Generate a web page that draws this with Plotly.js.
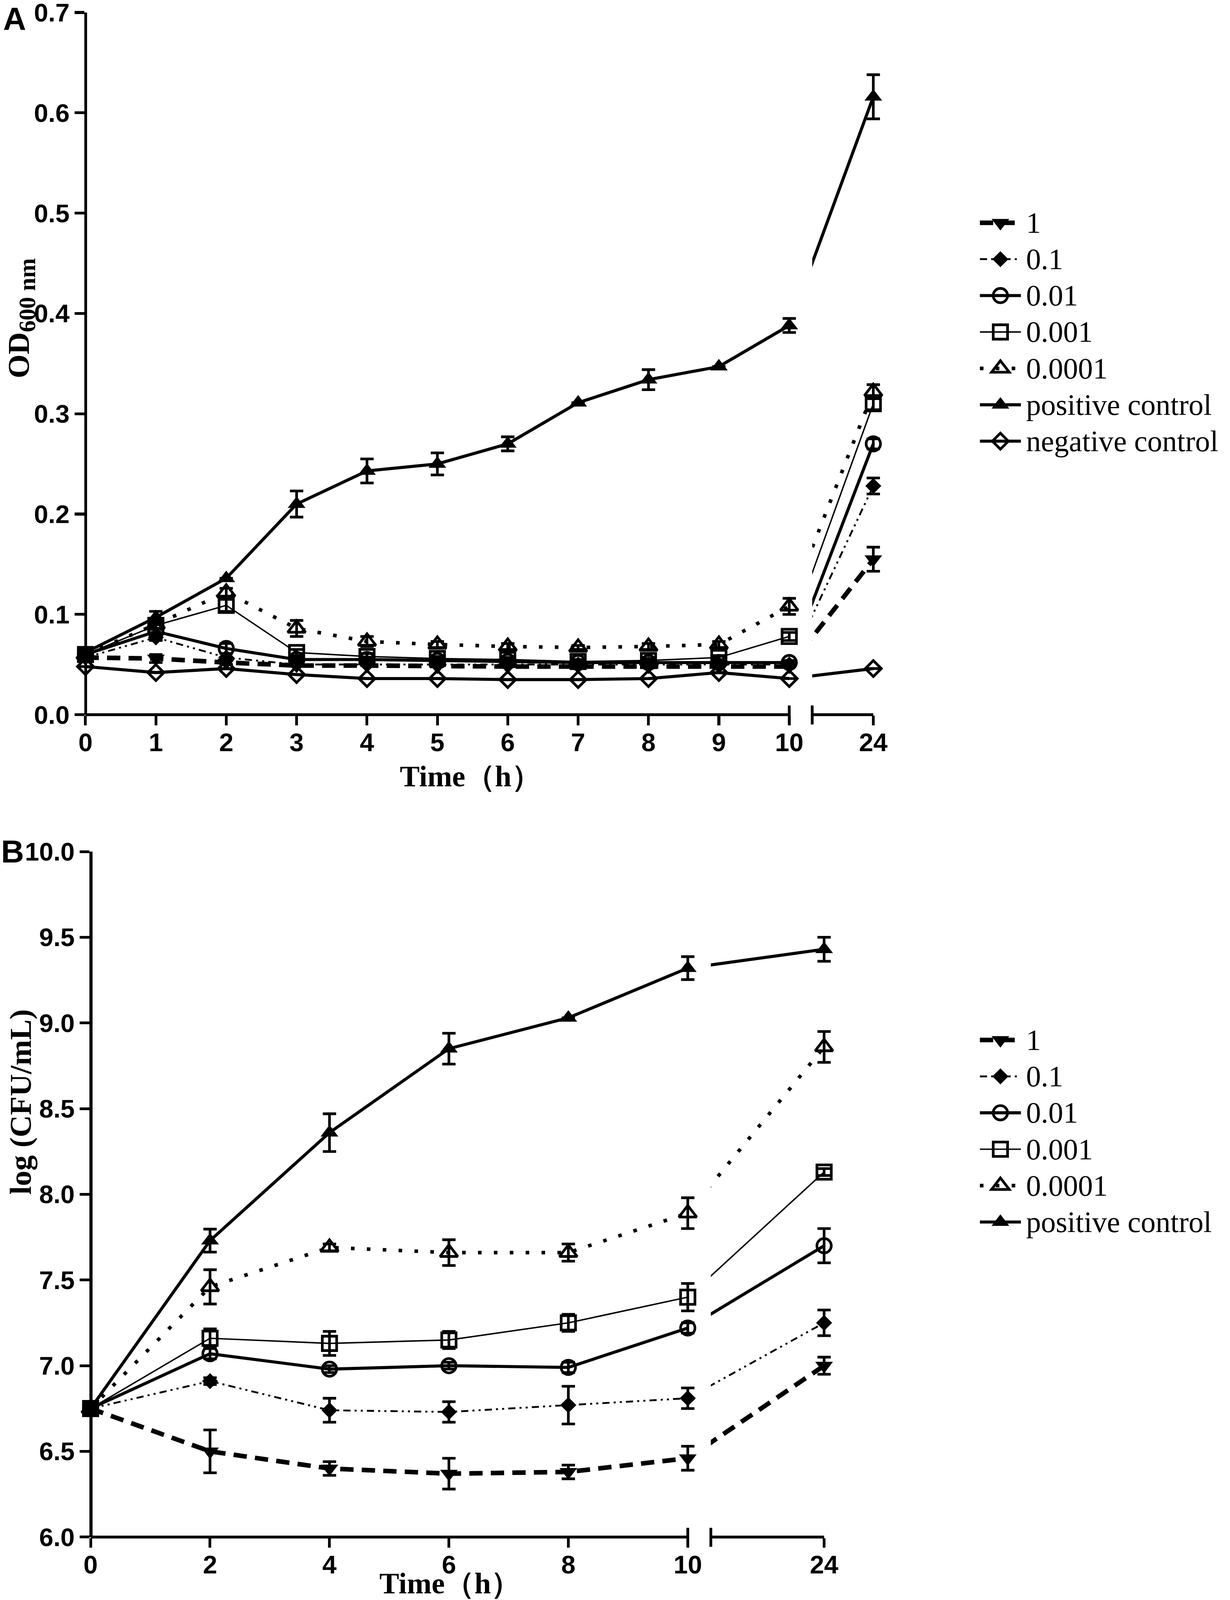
<!DOCTYPE html>
<html>
<head>
<meta charset="utf-8">
<script src="https://cdn.plot.ly/plotly-3.0.1.min.js"></script>
<style>
  html, body { margin: 0; padding: 0; background: #fff; }
  #page { width: 3150px; height: 4141px; overflow: hidden; position: relative; }
  /* drawn at 1200 px wide and scaled up to the 3150 px page */
  #fig { width: 1200px; height: 1577px; transform: scale(2.625); transform-origin: 0 0; }
</style>
</head>
<body>
<div id="page"><div id="fig"></div></div>
<script>
// ***** Data
const hoursA = [0, 1, 2, 3, 4, 5, 6, 7, 8, 9, 10, 24];
const hoursB = [0, 2, 4, 6, 8, 10, 24];
const seriesNames = ['1', '0.1', '0.01', '0.001', '0.0001', 'positive control', 'negative control'];

// panel A, OD600
const odDose1      = [0.057, 0.056, 0.052, 0.049, 0.049, 0.048, 0.048, 0.048, 0.048, 0.048, 0.048, 0.155];
const odDose1Err   = [null, 0.004, 0.002, null, null, null, null, null, null, null, null, 0.012];
const odDose01     = [0.057, 0.077, 0.057, 0.050, 0.050, 0.050, 0.050, 0.050, 0.050, 0.050, 0.050, 0.228];
const odDose01Err  = [null, 0.003, null, null, null, null, null, null, null, null, null, 0.008];
const odDose001    = [0.060, 0.083, 0.066, 0.055, 0.055, 0.054, 0.053, 0.052, 0.052, 0.052, 0.052, 0.270];
const odDose001Err = [0.002, 0.008, 0.005, 0.002, 0.002, 0.002, 0.002, 0.002, 0.002, 0.002, 0.002, 0.005];
const odDose0001   = [0.060, 0.089, 0.109, 0.062, 0.058, 0.056, 0.055, 0.053, 0.054, 0.057, 0.078, 0.310];
const odDose0001Err = [0.003, 0.004, 0.006, 0.003, 0.003, 0.002, 0.002, 0.002, 0.002, 0.002, 0.004, 0.006];
const odDose00001  = [0.060, 0.090, 0.122, 0.086, 0.073, 0.070, 0.068, 0.067, 0.068, 0.070, 0.108, 0.322];
const odDose00001Err = [0.003, null, 0.004, 0.008, 0.005, 0.003, 0.003, 0.002, 0.003, 0.003, 0.008, 0.007];
const odPositive   = [0.062, 0.097, 0.136, 0.210, 0.243, 0.250, 0.270, 0.311, 0.334, 0.347, 0.388, 0.616];
const odPositiveErr = [0.003, 0.006, null, 0.013, 0.012, 0.011, 0.007, null, 0.010, null, 0.007, 0.022];
const odNegative   = [0.048, 0.042, 0.046, 0.040, 0.036, 0.036, 0.035, 0.035, 0.036, 0.042, 0.036, 0.046];
const odNegativeErr = [null, null, null, null, null, null, null, null, null, null, null, null];

// panel B, log(CFU/mL)
const cfuDose1       = [6.75, 6.50, 6.40, 6.37, 6.38, 6.46, 7.00];
const cfuDose1Err    = [0.03, 0.125, 0.04, 0.09, 0.04, 0.07, 0.05];
const cfuDose01      = [6.75, 6.91, 6.74, 6.73, 6.77, 6.81, 7.25];
const cfuDose01Err   = [0.03, 0.02, 0.07, 0.06, 0.11, 0.06, 0.075];
const cfuDose001     = [6.75, 7.07, 6.98, 7.00, 6.99, 7.22, 7.70];
const cfuDose001Err  = [0.03, 0.03, 0.02, 0.02, 0.03, 0.03, 0.10];
const cfuDose0001    = [6.75, 7.16, 7.13, 7.15, 7.25, 7.40, 8.13];
const cfuDose0001Err = [0.03, 0.055, 0.07, 0.05, 0.05, 0.08, 0.02];
const cfuDose00001   = [6.75, 7.46, 7.69, 7.66, 7.66, 7.89, 8.86];
const cfuDose00001Err = [0.03, 0.10, 0.02, 0.075, 0.05, 0.09, 0.09];
const cfuPositive    = [6.75, 7.73, 8.36, 8.85, 9.03, 9.32, 9.43];
const cfuPositiveErr = [0.03, 0.067, 0.11, 0.09, null, 0.067, 0.07];

const seriesA = [
    [odDose1, odDose1Err], [odDose01, odDose01Err], [odDose001, odDose001Err],
    [odDose0001, odDose0001Err], [odDose00001, odDose00001Err],
    [odPositive, odPositiveErr], [odNegative, odNegativeErr]
];
const seriesB = [
    [cfuDose1, cfuDose1Err], [cfuDose01, cfuDose01Err], [cfuDose001, cfuDose001Err],
    [cfuDose0001, cfuDose0001Err], [cfuDose00001, cfuDose00001Err],
    [cfuPositive, cfuPositiveErr]
];

// ***** Look of each series (line + marker)
const looks = {
    '1':                {dash: '13px,8px', width: 4.5, symbol: 'triangle-down', size: 15},
    '0.1':              {dash: '7px,4px,2px,4px,2px,4px', width: 1.8, symbol: 'diamond', size: 12},
    '0.01':             {dash: 'solid', width: 3, symbol: 'circle-open', size: 14},
    '0.001':            {dash: 'solid', width: 1.4, symbol: 'square-open', size: 14},
    '0.0001':           {dash: '3.5px,12px', width: 3.5, symbol: 'triangle-up-open', size: 15},
    'positive control': {dash: 'solid', width: 3, symbol: 'triangle-up', size: 15},
    'negative control': {dash: 'solid', width: 3, symbol: 'diamond-open', size: 12}
};

// ***** Page geometry (in the 1200 px frame)
const W = 1200, H = 1577;
const PAD = 9;           // room so end caps of error bars are not clipped
const px = v => v / W;
const py = v => 1 - v / H;

// a broken x axis: [0,10] on the left piece, 24 on the small right piece;
// the right piece keeps the straight 10 -> 24 line of the original
const panels = {
    A: {left: 83.4, x10: 770, brk: 792.4, x24: 852, top: 12.2, bottom: 697,
        xa: 'x', xb: 'x2', ya: 'y', legend: 'legend'},
    B: {left: 88.4, x10: 671, brk: 693.5, x24: 804, top: 830.5, bottom: 1499,
        xa: 'x3', xb: 'x4', ya: 'y2', legend: 'legend2'}
};
const leftScale = p => (p.x10 - p.left) / 10;
const rightScale = p => (p.x24 - p.x10) / 14;
const rightStart = p => 10 + (p.brk - p.x10) / rightScale(p);

const errorBars = arr => ({type: 'data', array: arr, visible: true, color: 'black', thickness: 2.6, width: 6.5});

// legend labels: spacing follows legend.font.size, the glyphs are drawn a bit larger
const legendLabel = name => '<span style="font-size:29px">' + name + '</span>';

const makeTrace = (name, xs, ys, errs, xaxis, p, showlegend) => {
    const look = looks[name];
    return {
        type: 'scatter', mode: 'lines+markers', name: legendLabel(name),
        x: xs, y: ys, error_y: errorBars(errs),
        xaxis: xaxis, yaxis: p.ya, legend: p.legend, showlegend: showlegend,
        cliponaxis: false, hoverinfo: 'skip',
        line: {color: 'black', width: look.width, dash: look.dash},
        marker: {symbol: look.symbol, size: look.size, color: 'black',
                 line: {color: 'black', width: look.symbol.endsWith('open') ? 2.6 : 0}}
    };
};

const traces = [];
const addSeries = (p, name, hours, vals, errs) => {
    const cut = hours.indexOf(10) + 1;
    traces.push(makeTrace(name, hours.slice(0, cut), vals.slice(0, cut), errs.slice(0, cut), p.xa, p, true));
    traces.push(makeTrace(name, hours.slice(cut - 1), vals.slice(cut - 1), errs.slice(cut - 1), p.xb, p, false));
};
seriesA.forEach((s, i) => addSeries(panels.A, seriesNames[i], hoursA, s[0], s[1]));
seriesB.forEach((s, i) => addSeries(panels.B, seriesNames[i], hoursB, s[0], s[1]));

// ***** Axes
const tickFont = {family: 'Liberation Sans, Arial, sans-serif', size: 25, color: 'black', weight: 'bold'};
const axisBase = () => ({
    showline: false, linecolor: 'black', linewidth: 2.7,
    ticks: 'outside', ticklen: 9.5, tickwidth: 2.7, tickcolor: 'black',
    showgrid: false, zeroline: false, fixedrange: true, tickfont: tickFont,
    ticklabeloverflow: 'allow'
});
const leftX = (p, step) => Object.assign(axisBase(), {
    domain: [px(p.left - PAD), px(p.x10 + PAD)],
    range: [-PAD / leftScale(p), 10 + PAD / leftScale(p)], anchor: p.ya,
    tickmode: 'linear', tick0: 0, dtick: step, ticklabelstandoff: -5
});
const rightX = p => Object.assign(axisBase(), {
    domain: [px(p.brk), px(p.x24 + PAD)],
    range: [rightStart(p), 24 + PAD / rightScale(p)], anchor: p.ya,
    tickmode: 'array', tickvals: [24], ticktext: ['24'], ticklabelstandoff: -5
});
const yAxis = (p, range, step) => Object.assign(axisBase(), {
    showline: true, domain: [py(p.bottom), py(p.top)], range: range,
    anchor: 'free', position: px(p.left),
    tickmode: 'linear', tick0: range[0], dtick: step, tickformat: '.1f'
});

const legendBase = (centre) => ({
    x: px(951), xanchor: 'left', y: py(centre), yanchor: 'middle',
    font: {family: 'Liberation Serif, Times New Roman, serif', size: 25, color: 'black'},
    itemwidth: 40, bgcolor: 'rgba(0,0,0,0)', traceorder: 'normal', itemclick: false
});

// x axis pieces and break marks, placed on the page (not clipped by the subplots)
const stroke = {color: 'black', width: 2.7};
const axisPiece = (x0, x1, yv) => ({
    type: 'line', layer: 'below', xref: 'paper', yref: 'paper',
    x0: px(x0), x1: px(x1), y0: py(yv), y1: py(yv), line: stroke
});
const breakMark = (xv, yv) => ({
    type: 'line', xref: 'paper', yref: 'paper',
    x0: px(xv), x1: px(xv), y0: py(yv + 9.5), y1: py(yv - 9), line: stroke
});

const titleFont = {family: 'Liberation Serif, Times New Roman, serif', size: 30, color: 'black', weight: 'bold'};
const timeFont = {family: 'Liberation Serif, Times New Roman, serif', size: 29, color: 'black', weight: 'bold'};
const letterFont = {family: 'Liberation Sans, Arial, sans-serif', size: 31, color: 'black', weight: 'bold'};
const label = (text, x, y, font, angle, yanchor) => ({
    text: text, xref: 'paper', yref: 'paper', x: px(x), y: py(y),
    xanchor: 'center', yanchor: yanchor || 'middle', showarrow: false, font: font,
    textangle: angle || 0, borderpad: 0
});

const A = panels.A, B = panels.B;
const layout = {
    width: W, height: H, autosize: false,
    margin: {l: 0, r: 0, t: 0, b: 0},
    paper_bgcolor: 'white', plot_bgcolor: 'rgba(0,0,0,0)',
    xaxis: leftX(A, 1),
    xaxis2: rightX(A),
    xaxis3: leftX(B, 2),
    xaxis4: rightX(B),
    yaxis: yAxis(A, [0, 0.7], 0.1),
    yaxis2: yAxis(B, [6, 10], 0.5),
    legend: legendBase(324),
    legend2: legendBase(1103),
    shapes: [
        axisPiece(A.left, A.x10, A.bottom), axisPiece(A.brk, A.x24, A.bottom),
        axisPiece(B.left, B.x10, B.bottom), axisPiece(B.brk, B.x24, B.bottom),
        breakMark(A.x10, A.bottom), breakMark(A.brk, A.bottom),
        breakMark(B.x10, B.bottom), breakMark(B.brk, B.bottom)
    ],
    annotations: [
        label('A', 14, 0, letterFont, 0, 'top'),
        label('B', 12, 812, letterFont, 0, 'top'),
        label('OD<sub><span style="font-size:23px">600 nm</span></sub>', 20, 311, titleFont, -90),
        label('Time（h）', 459, 757, timeFont),
        label('log (CFU/mL)', 20, 1075, titleFont, -90),
        label('Time（h）', 439, 1544, timeFont)
    ],
    showlegend: true
};

Plotly.newPlot('fig', traces, layout, {displayModeBar: false, staticPlot: true});
</script>
</body>
</html>
